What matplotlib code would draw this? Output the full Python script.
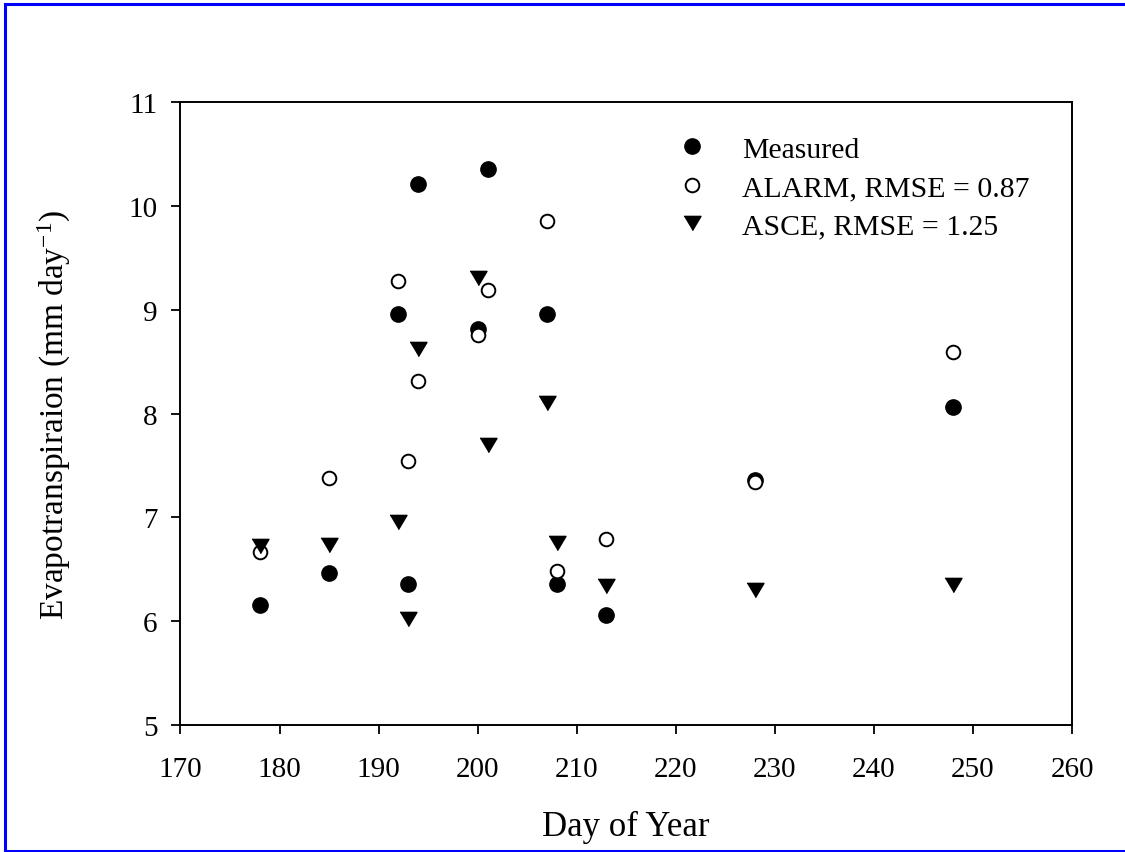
import matplotlib
matplotlib.use("Agg")
import matplotlib.pyplot as plt
from matplotlib.lines import Line2D

plt.rcParams['font.family'] = ['Liberation Serif', 'DejaVu Serif']
plt.rcParams['mathtext.fontset'] = 'custom'
plt.rcParams['mathtext.rm'] = 'Liberation Serif'
plt.rcParams['mathtext.it'] = 'Liberation Serif:italic'

days = [178, 185, 192, 193, 194, 200, 201, 207, 208, 213, 228, 248]
measured = [6.16, 6.46, 8.96, 6.36, 10.21, 8.82, 10.36, 8.96, 6.36, 6.06, 7.36, 8.06]
alarm = [6.67, 7.38, 9.28, 7.54, 8.31, 8.76, 9.19, 9.86, 6.48, 6.79, 7.34, 8.59]
asce = [6.72, 6.73, 6.96, 6.02, 8.62, 9.31, 7.70, 8.10, 6.75, 6.34, 6.30, 6.35]

labels = ["Measured", "ALARM, RMSE = 0.87", "ASCE, RMSE = 1.25"]
x_ticks = list(range(170, 261, 10))
y_ticks = list(range(5, 12))

fig = plt.figure(figsize=(11.25, 8.53), dpi=100)
ax = fig.add_axes([0.1604, 0.1489, 0.7925, 0.7300])

tri = [(-1.0, 0.84), (1.0, 0.84), (0.0, -0.84)]

ax.plot(days, measured, linestyle='none', marker='o', markersize=11,
        markerfacecolor='black', markeredgecolor='black', label=labels[0], zorder=3)
ax.plot(days, alarm, linestyle='none', marker='o', markersize=9.8,
        markerfacecolor='white', markeredgecolor='black', markeredgewidth=1.4,
        label=labels[1], zorder=4)
ax.plot(days, asce, linestyle='none', marker=tri, markersize=12.2,
        markerfacecolor='black', markeredgecolor='black', label=labels[2], zorder=5)

ax.set_xlim(170, 260)
ax.set_ylim(5, 11)
ax.set_xticks(x_ticks)
ax.set_yticks(y_ticks)
ax.tick_params(axis='both', direction='out', length=6.5, width=1.3,
               labelsize=21, top=False, right=False)
ax.tick_params(axis='x', pad=16)
ax.tick_params(axis='y', pad=10)
for sp in ax.spines.values():
    sp.set_linewidth(1.4)

ax.set_xlabel("Day of Year", fontsize=25, labelpad=20)
ax.set_ylabel("Evapotranspiraion (mm day$^{\\mathregular{-1}}$)", fontsize=24, labelpad=40)

leg = ax.legend(loc='upper left', bbox_to_anchor=(0.557, 0.946), frameon=False,
                fontsize=21.4, handlelength=1.0, handletextpad=1.18, labelspacing=0.39,
                borderpad=0, borderaxespad=0, numpoints=1)

# blue frame around figure (top, left, bottom)
lw = 2.2
fig.add_artist(Line2D([0.0045, 1.0], [1 - 5 / 853, 1 - 5 / 853], color='blue', linewidth=lw,
                      transform=fig.transFigure))
fig.add_artist(Line2D([5 / 1125, 5 / 1125], [1 - 5 / 853, 1.5 / 853], color='blue', linewidth=lw,
                      transform=fig.transFigure))
fig.add_artist(Line2D([0.0045, 1.0], [1.5 / 853, 1.5 / 853], color='blue', linewidth=lw,
                      transform=fig.transFigure))

fig.savefig("out.png", dpi=100)
